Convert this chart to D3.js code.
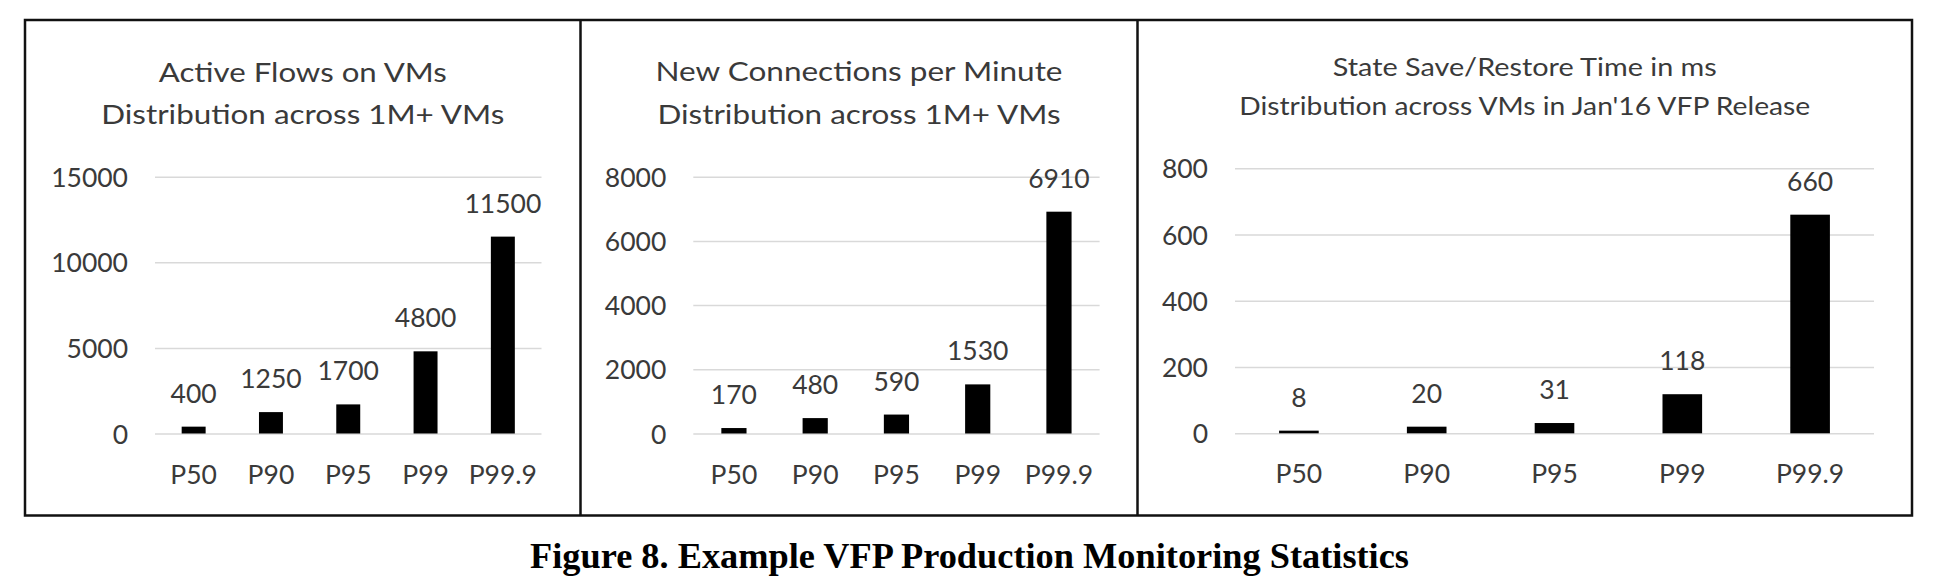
<!DOCTYPE html>
<html>
<head>
<meta charset="utf-8">
<script src="https://cdn.jsdelivr.net/npm/d3@7"></script>
<style>
  html, body { margin: 0; padding: 0; background: #fff; }
  svg { display: block; }
</style>
</head>
<body>
<svg id="chart" width="1943" height="581"></svg>
<script>
// ---------------- DATA ----------------
const categories = ["P50", "P90", "P95", "P99", "P99.9"];
const activeFlows = [400, 1250, 1700, 4800, 11500];
const newConnections = [170, 480, 590, 1530, 6910];
const saveRestoreMs = [8, 20, 31, 118, 660];

const activeFlowsTicks = [0, 5000, 10000, 15000];
const newConnectionsTicks = [0, 2000, 4000, 6000, 8000];
const saveRestoreTicks = [0, 200, 400, 600, 800];

const activeFlowsTitle = ["Active Flows on VMs", "Distribution across 1M+ VMs"];
const newConnectionsTitle = ["New Connections per Minute", "Distribution across 1M+ VMs"];
const saveRestoreTitle = ["State Save/Restore Time in ms", "Distribution across VMs in Jan'16 VFP Release"];

const captionText = "Figure 8. Example VFP Production Monitoring Statistics";

// ---------------- LAYOUT ----------------
const svg = d3.select("#chart");
const frame = { left: 25, top: 20, right: 1912, bottom: 515.5 };
const dividers = [580.5, 1137.5];
const textColor = "#3a3a3a";
const sansFont = "Lato, 'Open Sans', sans-serif";

const panels = [
  { values: activeFlows, ticks: activeFlowsTicks, title: activeFlowsTitle,
    x0: 155, x1: 541.5, yTop: 176.7, yBottom: 433.5,
    titleCx: 302.75, titleY: [82, 124], titleSize: 27.5, titleW: [288, 403] },
  { values: newConnections, ticks: newConnectionsTicks, title: newConnectionsTitle,
    x0: 693.3, x1: 1099.6, yTop: 176.7, yBottom: 433.5,
    titleCx: 859, titleY: [81, 124], titleSize: 27.5, titleW: [407, 403] },
  { values: saveRestoreMs, ticks: saveRestoreTicks, title: saveRestoreTitle,
    x0: 1235, x1: 1874, yTop: 168.3, yBottom: 433.3,
    titleCx: 1524.75, titleY: [76, 115], titleSize: 24.5, titleW: [384, 571] }
];

const labelSize = 26.5;

panels.forEach(p => {
  const g = svg.append("g");
  const x = d3.scaleBand().domain(categories).range([p.x0, p.x1])
    .paddingInner(0.69).paddingOuter(0.345);
  const yMax = p.ticks[p.ticks.length - 1];
  const y = d3.scaleLinear().domain([0, yMax]).range([p.yBottom, p.yTop]);

  // Y axis with gridlines
  const yAxis = d3.axisLeft(y).tickValues(p.ticks).tickFormat(d3.format("d"))
    .tickSize(-(p.x1 - p.x0)).tickPadding(27);
  const ya = g.append("g").attr("transform", `translate(${p.x0},0)`).call(yAxis);
  ya.select(".domain").remove();
  ya.selectAll(".tick line").attr("stroke", "#d9d9d9").attr("stroke-width", 1.5);
  ya.selectAll(".tick text").attr("fill", textColor)
    .style("font-family", sansFont).style("font-size", labelSize + "px")
    .attr("dy", "0.36em");

  // X axis labels
  const xAxis = d3.axisBottom(x).tickSize(0).tickPadding(50);
  const xa = g.append("g").attr("transform", `translate(0,${p.yBottom})`).call(xAxis);
  xa.select(".domain").remove();
  xa.selectAll(".tick text").attr("fill", textColor)
    .style("font-family", sansFont).style("font-size", labelSize + "px")
    .attr("dy", "0");

  // Bars
  g.selectAll("rect.bar").data(p.values).enter().append("rect")
    .attr("class", "bar")
    .attr("x", (d, i) => x(categories[i]))
    .attr("width", x.bandwidth())
    .attr("y", d => y(d))
    .attr("height", d => y(0) - y(d))
    .attr("fill", "#000");

  // Value labels
  g.selectAll("text.val").data(p.values).enter().append("text")
    .attr("class", "val")
    .attr("x", (d, i) => x(categories[i]) + x.bandwidth() / 2)
    .attr("y", d => y(d) - 24)
    .attr("text-anchor", "middle")
    .attr("fill", textColor)
    .style("font-family", sansFont).style("font-size", labelSize + "px")
    .text(d => d);

  // Titles
  p.title.forEach((t, i) => {
    g.append("text")
      .attr("x", p.titleCx).attr("y", p.titleY[i])
      .attr("text-anchor", "middle")
      .attr("fill", textColor)
      .style("font-family", sansFont).style("font-size", p.titleSize + "px")
      .attr("textLength", p.titleW[i]).attr("lengthAdjust", "spacingAndGlyphs")
      .text(t);
  });
});

// Frame
svg.append("rect")
  .attr("x", frame.left).attr("y", frame.top)
  .attr("width", frame.right - frame.left).attr("height", frame.bottom - frame.top)
  .attr("fill", "none").attr("stroke", "#111").attr("stroke-width", 2.5);
dividers.forEach(dx => {
  svg.append("line").attr("x1", dx).attr("x2", dx)
    .attr("y1", frame.top).attr("y2", frame.bottom)
    .attr("stroke", "#111").attr("stroke-width", 2.5);
});

// Caption
const cap = svg.append("text")
  .attr("x", 969.5).attr("y", 568)
  .attr("text-anchor", "middle")
  .attr("fill", "#000")
  .style("font-family", "'Liberation Serif', 'Times New Roman', serif")
  .style("font-weight", "bold")
  .style("font-size", "100px")
  .text(captionText);
const natural = cap.node().getComputedTextLength();
cap.style("font-size", (100 * 879 / natural) + "px");
</script>
</body>
</html>
